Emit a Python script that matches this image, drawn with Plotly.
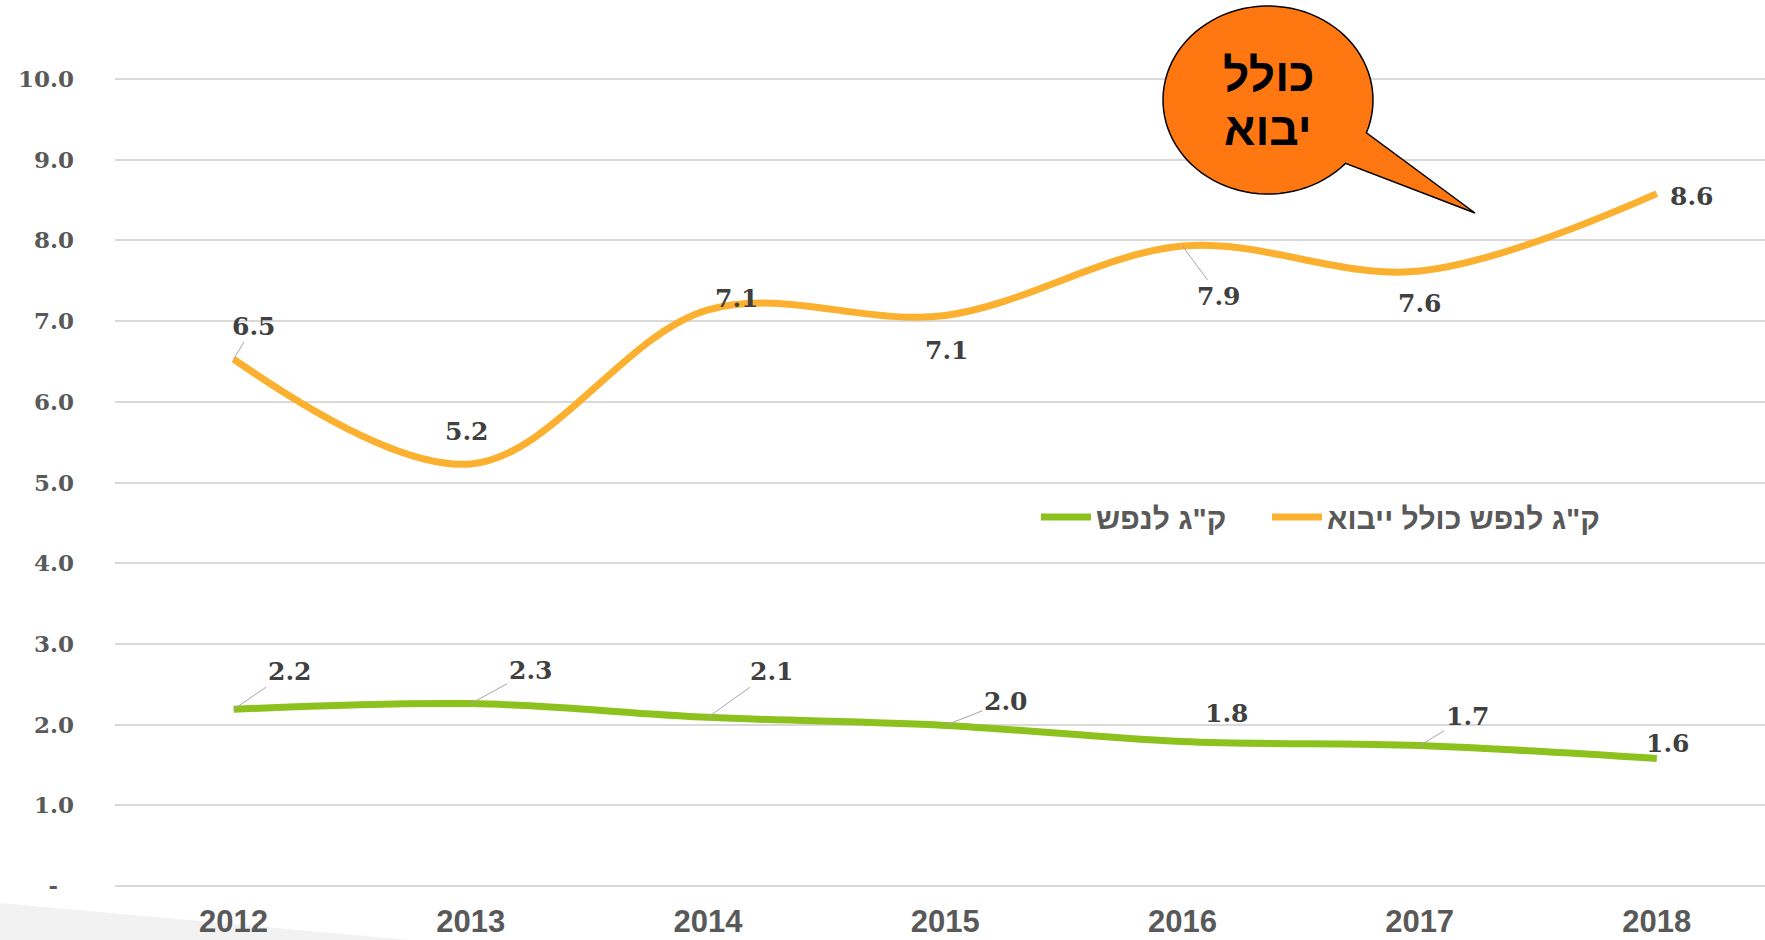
import math
import plotly.graph_objects as go

# ---------------- data ----------------
years = ["2012", "2013", "2014", "2015", "2016", "2017", "2018"]
kg_incl_import = [6.53, 5.23, 7.14, 7.07, 7.93, 7.62, 8.58]
kg_per_capita = [2.19, 2.26, 2.09, 1.99, 1.79, 1.74, 1.58]
name_incl_import = 'ק"ג לנפש כולל ייבוא'
name_per_capita = 'ק"ג לנפש'
y_tickvals = [0, 1, 2, 3, 4, 5, 6, 7, 8, 9, 10]
y_ticktext = ["-\u00a0\u00a0", "1.0", "2.0", "3.0", "4.0", "5.0", "6.0", "7.0", "8.0", "9.0", "10.0"]
callout_lines = ["כולל", "יבוא"]

# ---------------- style / layout ----------------
W, H = 1765, 940
L, R, T, B = 115, 0, 0, 50
PW, PH = W - L - R, H - T - B
UNIT = 80.7  # px per y unit
Y_MIN = -(PH - 886) / UNIT
Y_MAX = 886 / UNIT

ORANGE = "#FBB12F"
GREEN = "#8CC11E"
GRID = "#D9D9D9"
AXIS_TXT = "#595959"
LABEL_TXT = "#404040"
LEADER = "#A6A6A6"

# label offsets (px) relative to point: dx, dy(down +), leader line?
orange_label_pos = [(20, -33, True), (-4, -32, False), (29, -11, False), (2, 35, False),
                    (37, 50, True), (0, 32, False), (35, 3, False)]
green_label_pos = [(56, -38, True), (60, -33, True), (64, -46, True), (61, -24, True),
                   (45, -28, False), (48, -29, True), (11, -15, False)]


def px(x):
    return (x - L) / PW


def py(y):
    return (T + PH - y) / PH


fig = go.Figure()
fig.add_trace(go.Scatter(
    x=years, y=kg_incl_import, name=name_incl_import, mode="lines", legend="legend2",
    line=dict(color=ORANGE, width=7, shape="spline", smoothing=1),
    hoverinfo="skip"))
fig.add_trace(go.Scatter(
    x=years, y=kg_per_capita, name=name_per_capita, mode="lines", legend="legend",
    line=dict(color=GREEN, width=7, shape="spline", smoothing=1),
    hoverinfo="skip"))

label_font = dict(family="DejaVu Serif", size=25, color=LABEL_TXT, weight="bold")
for series, positions in ((kg_incl_import, orange_label_pos), (kg_per_capita, green_label_pos)):
    for i, (v, (dx, dy, lead)) in enumerate(zip(series, positions)):
        if lead:
            fig.add_annotation(x=i, y=v, xref="x", yref="y", text=f"{v:.1f}",
                               showarrow=True, ax=dx, ay=dy,
                               arrowhead=0, arrowwidth=1, arrowcolor=LEADER, standoff=0,
                               font=dict(label_font))
        else:
            fig.add_annotation(x=i, y=v, xref="x", yref="y", text=f"{v:.1f}",
                               showarrow=False, xshift=dx, yshift=-dy,
                               font=dict(label_font))

# callout bubble (ellipse + tail) in pixel space converted to paper coordinates
cx, cy, rx, ry = 1268, 100, 105, 94
a0, a1 = 42.4, 380.4
pts = []
n = 90
for k in range(n + 1):
    t = math.radians(a0 + (a1 - a0) * k / n)
    pts.append((cx + rx * math.cos(t), cy + ry * math.sin(t)))
pts.append((1475, 213))
path = "M " + " L ".join(f"{px(x):.5f},{py(y):.5f}" for x, y in pts) + " Z"
fig.add_shape(type="path", path=path, xref="paper", yref="paper",
              fillcolor="#FF7711", line=dict(color="black", width=1.5), layer="above")
for txt, ty in zip(callout_lines, (75, 129)):
    fig.add_annotation(x=px(cx), y=py(ty), xref="paper", yref="paper", text=txt,
                       showarrow=False, xanchor="center", yanchor="middle",
                       font=dict(family="Liberation Sans", size=46, color="black", weight="bold"))

# grey slide decoration bottom-left
wedge = f"M {px(0):.5f},{py(903):.5f} L {px(410):.5f},{py(940):.5f} L {px(0):.5f},{py(940):.5f} Z"
fig.add_shape(type="path", path=wedge, xref="paper", yref="paper",
              fillcolor="#F2F2F2", line=dict(width=0), layer="below")

legend_font = dict(family="Liberation Sans", size=30, color=AXIS_TXT, weight="bold")
fig.update_layout(
    width=W, height=H,
    margin=dict(l=L, r=R, t=T, b=B, pad=0, autoexpand=False),
    paper_bgcolor="white", plot_bgcolor="rgba(0,0,0,0)",
    showlegend=True,
    legend=dict(orientation="h", x=px(1036), y=py(517), xanchor="left", yanchor="middle",
                bgcolor="rgba(0,0,0,0)", itemwidth=50, font=legend_font),
    legend2=dict(orientation="h", x=px(1267), y=py(517), xanchor="left", yanchor="middle",
                 bgcolor="rgba(0,0,0,0)", itemwidth=50, font=legend_font),
    xaxis=dict(type="category", range=[-0.5, 6.456], showgrid=False, showline=False,
               zeroline=False, ticks="", ticklabelstandoff=10, automargin=False,
               tickfont=dict(family="Liberation Sans", size=31, color=AXIS_TXT, weight="bold")),
    yaxis=dict(range=[Y_MIN, Y_MAX], tickvals=y_tickvals, ticktext=y_ticktext,
               showgrid=True, gridcolor=GRID, gridwidth=1.5, zeroline=False, showline=False,
               ticks="", ticklabelstandoff=40, automargin=False,
               tickfont=dict(family="DejaVu Serif", size=23, color=AXIS_TXT, weight="bold")),
)

fig.write_html("out.html", config={"displayModeBar": False},
               post_script="document.body.style.margin='0';document.body.style.overflow='hidden';")
